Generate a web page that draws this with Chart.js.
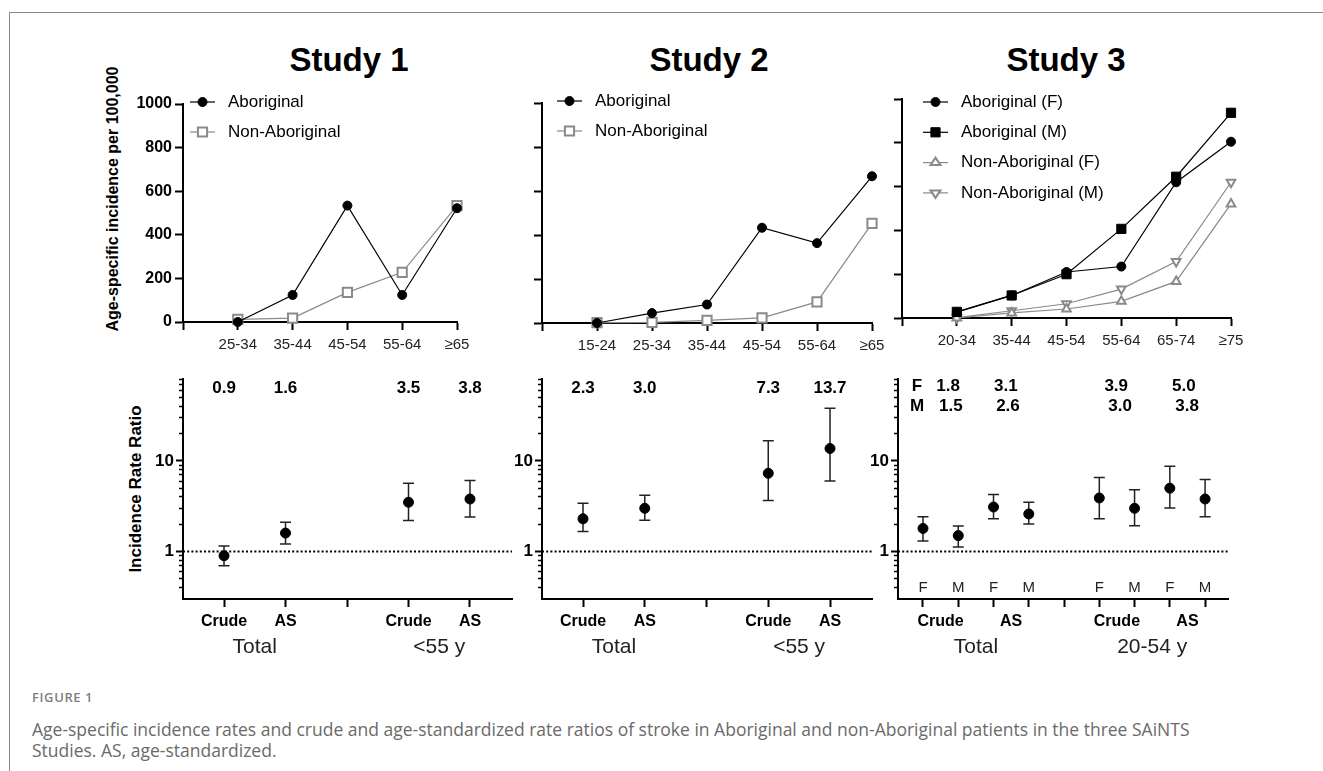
<!DOCTYPE html>
<html>
<head>
<meta charset="utf-8">
<script src="https://cdn.jsdelivr.net/npm/chart.js@4.4.0/dist/chart.umd.min.js"></script>
<style>
  body { margin: 0; background: #fff; width: 1323px; height: 771px; overflow: hidden; position: relative; font-family: "Liberation Sans", Arial, sans-serif; }
  #frame { position: absolute; left: 9px; top: 12px; width: 1400px; height: 800px; border: 1px solid #8a8a8a; }
  .title { position: absolute; top: 41px; font-weight: bold; font-size: 33px; transform: translateX(-50%); white-space: nowrap; color: #000; }
  .ylab { position: absolute; font-weight: bold; white-space: nowrap; color: #000; transform: translate(-50%, -50%) rotate(-90deg); }
  canvas { position: absolute; }
  .caphead { position: absolute; left: 32px; top: 689px; font: 600 13px/16px "Open Sans", sans-serif; letter-spacing: 0.6px; color: #808080; }
  .cap { position: absolute; left: 32px; top: 719px; font: 17.5px/21px "Open Sans", sans-serif; color: #6a6a6a; white-space: nowrap; }
</style>
</head>
<body>
<div id="frame"></div>
<div class="title" style="left:349px">Study 1</div>
<div class="title" style="left:709px">Study 2</div>
<div class="title" style="left:1066px">Study 3</div>
<div class="ylab" style="left:113px; top:199px; font-size:16px">Age-specific incidence per 100,000</div>
<div class="ylab" style="left:136px; top:489px; font-size:17px">Incidence Rate Ratio</div>

<canvas id="top1"></canvas>
<canvas id="top2"></canvas>
<canvas id="top3"></canvas>
<canvas id="bot1"></canvas>
<canvas id="bot2"></canvas>
<canvas id="bot3"></canvas>

<div class="caphead">FIGURE 1</div>
<div class="cap">Age-specific incidence rates and crude and age-standardized rate ratios of stroke in Aboriginal and non-Aboriginal patients in the three SAiNTS<br>Studies. AS, age-standardized.</div>

<script>
// age-specific incidence per 100,000
const study1Ages = ['25-34', '35-44', '45-54', '55-64', '≥65'];
const study1Aboriginal = [0, 124, 534, 124, 522];
const study1NonAboriginal = [12, 18, 136, 228, 534];

const study2Ages = ['15-24', '25-34', '35-44', '45-54', '55-64', '≥65'];
const study2Aboriginal = [0, 45, 84, 433, 363, 667];
const study2NonAboriginal = [2, 3, 12, 23, 96, 453];

const study3Ages = ['20-34', '35-44', '45-54', '55-64', '65-74', '≥75'];
const study3AboriginalF = [27, 103, 210, 235, 620, 805];
const study3AboriginalM = [28, 103, 200, 407, 645, 937];
const study3NonAboriginalF = [0, 23, 41, 76, 167, 521];
const study3NonAboriginalM = [2, 33, 65, 132, 258, 620];

const incidenceTicks = [0, 200, 400, 600, 800, 1000];

// incidence rate ratios (Aboriginal vs non-Aboriginal)
const ratioMeasures = ['Crude', 'AS'];
const ratioGroups12 = ['Total', '<55 y'];
const ratioGroups3 = ['Total', '20-54 y'];
const ratioSlots12 = [0, 1, 3, 4];
const ratioSlots3 = [0, 1, 2, 3, 5, 6, 7, 8];

const study1Irr = [0.9, 1.6, 3.5, 3.8];
const study1Lo = [0.70, 1.21, 2.2, 2.41];
const study1Hi = [1.15, 2.11, 5.68, 6.06];

const study2Irr = [2.3, 3.0, 7.3, 13.7];
const study2Lo = [1.66, 2.22, 3.65, 6.0];
const study2Hi = [3.42, 4.19, 16.7, 38.1];

const study3Sex = ['F', 'M', 'F', 'M', 'F', 'M', 'F', 'M'];
const study3Irr = [1.8, 1.5, 3.1, 2.6, 3.9, 3.0, 5.0, 3.8];
const study3Lo = [1.31, 1.12, 2.3, 2.01, 2.3, 1.93, 3.02, 2.42];
const study3Hi = [2.42, 1.92, 4.27, 3.49, 6.58, 4.8, 8.75, 6.25];

const irrLabelled = [1, 10];

Chart.defaults.font.family = '"Liberation Sans", Arial, sans-serif';
Chart.defaults.color = '#000';

const BLACK = '#000';
const GREY = '#8a8a8a';

function placeCanvas(id, area, pad) {
  const cv = document.getElementById(id);
  const w = area.r - area.l + pad.l + pad.r;
  const h = area.b - area.t + pad.t + pad.b;
  cv.width = w; cv.height = h;
  cv.style.left = (area.l - pad.l) + 'px';
  cv.style.top = (area.t - pad.t) + 'px';
  cv.style.width = w + 'px';
  cv.style.height = h + 'px';
  return cv;
}

function marker(ctx, style, r, x, y, rot) {
  ctx.beginPath();
  if (style === 'circle') {
    ctx.arc(x, y, r, 0, Math.PI * 2);
  } else if (style === 'rect') {
    const s = r * Math.SQRT1_2;
    ctx.rect(x - s, y - s, 2 * s, 2 * s);
  } else {
    const dir = rot ? -1 : 1;
    const h = r * 1.5;
    ctx.moveTo(x, y - dir * r);
    ctx.lineTo(x - h * 0.577 * 1.15, y + dir * r * 0.5);
    ctx.lineTo(x + h * 0.577 * 1.15, y + dir * r * 0.5);
    ctx.closePath();
  }
  ctx.fill();
  ctx.stroke();
}

const lineLegend = {
  id: 'lineLegend',
  afterDraw(chart, args, o) {
    const ctx = chart.ctx, a = chart.chartArea;
    ctx.save();
    chart.data.datasets.forEach((ds, i) => {
      const y = a.top + o.y + i * o.dy;
      const x0 = a.left + o.x, x1 = x0 + 25;
      ctx.strokeStyle = ds.borderColor;
      ctx.lineWidth = ds.borderWidth;
      ctx.beginPath(); ctx.moveTo(x0, y); ctx.lineTo(x1, y); ctx.stroke();
      ctx.fillStyle = ds.pointBackgroundColor;
      ctx.lineWidth = ds.pointBorderWidth;
      marker(ctx, ds.pointStyle, ds.pointRadius, (x0 + x1) / 2, y, ds.pointRotation);
      ctx.fillStyle = '#000';
      ctx.font = '17px "Liberation Sans"';
      ctx.textBaseline = 'middle';
      ctx.fillText(ds.label, x0 + 38, y);
    });
    ctx.restore();
  }
};

function series(label, values, color, fill, style, r, rot) {
  return {
    label,
    data: values.map((v, i) => ({ x: i + 1, y: v })),
    borderColor: color, borderWidth: 1.2,
    pointStyle: style, pointRadius: r, pointRotation: rot || 0,
    pointBackgroundColor: fill, pointBorderColor: color,
    pointBorderWidth: color === BLACK ? 1 : 2,
    clip: false, tension: 0
  };
}

function topChart(id, area, ages, datasets, showY, legend) {
  const pad = { l: 80, r: 30, t: 30, b: 40 };
  const cv = placeCanvas(id, area, pad);
  new Chart(cv, {
    type: 'line',
    data: { datasets },
    options: {
      responsive: false, animation: false, events: [],
      layout: { padding: { left: 0, top: pad.t, right: pad.r, bottom: 0 } },
      plugins: { legend: { display: false }, tooltip: { enabled: false }, lineLegend: legend },
      scales: {
        x: {
          type: 'linear', min: 0, max: ages.length,
          afterBuildTicks: s => { s.ticks = ages.map((_, i) => ({ value: i })).concat([{ value: ages.length }]); },
          ticks: { callback: v => (v >= 1 ? ages[v - 1] : ''), font: { size: 15 }, color: '#222', padding: 6, maxRotation: 0, autoSkip: false },
          grid: { drawOnChartArea: false, tickLength: 8, tickWidth: 2, tickColor: BLACK },
          border: { color: BLACK, width: 2 },
          afterFit: s => { s.height = pad.b; s.paddingLeft = 0; s.paddingRight = 0; }
        },
        y: {
          min: 0, max: 1000,
          afterBuildTicks: s => { s.ticks = incidenceTicks.map(v => ({ value: v })); },
          ticks: { callback: v => (showY ? String(v) : ''), font: { size: 16, weight: 'bold' }, padding: 3 },
          grid: { drawOnChartArea: false, tickLength: 8, tickWidth: 2, tickColor: BLACK },
          border: { color: BLACK, width: 2 },
          afterFit: s => { s.width = pad.l; s.paddingTop = 0; s.paddingBottom = 0; }
        }
      }
    },
    plugins: [lineLegend]
  });
}

topChart('top1', { l: 183, r: 457, t: 104, b: 322 }, study1Ages, [
  series('Aboriginal', study1Aboriginal, BLACK, BLACK, 'circle', 4.5),
  series('Non-Aboriginal', study1NonAboriginal, GREY, '#fff', 'rect', 6.5)
], true, { x: 7, y: -2, dy: 30 });

topChart('top2', { l: 542, r: 872, t: 103, b: 323 }, study2Ages, [
  series('Aboriginal', study2Aboriginal, BLACK, BLACK, 'circle', 4.5),
  series('Non-Aboriginal', study2NonAboriginal, GREY, '#fff', 'rect', 6.5)
], false, { x: 15, y: -2, dy: 30 });

topChart('top3', { l: 902, r: 1231, t: 99, b: 318 }, study3Ages, [
  series('Aboriginal (F)', study3AboriginalF, BLACK, BLACK, 'circle', 4.5),
  series('Aboriginal (M)', study3AboriginalM, BLACK, BLACK, 'rect', 6.5),
  series('Non-Aboriginal (F)', study3NonAboriginalF, GREY, '#fff', 'triangle', 5),
  series('Non-Aboriginal (M)', study3NonAboriginalM, GREY, '#fff', 'triangle', 5, 180)
], false, { x: 21, y: 3, dy: 30.3 });

// bottom row: rate ratios on a log axis
const errorBars = {
  id: 'errorBars',
  beforeDatasetsDraw(chart) {
    const ds = chart.data.datasets[0], xs = chart.scales.x, ys = chart.scales.y, ctx = chart.ctx;
    ctx.save();
    ctx.strokeStyle = '#222'; ctx.lineWidth = 1.5;
    ds.data.forEach((p, i) => {
      const x = xs.getPixelForValue(p.x);
      const y1 = ys.getPixelForValue(ds.lo[i]);
      const y2 = ys.getPixelForValue(ds.hi[i]);
      ctx.beginPath();
      ctx.moveTo(x, y1); ctx.lineTo(x, y2);
      ctx.moveTo(x - 5.5, y1); ctx.lineTo(x + 5.5, y1);
      ctx.moveTo(x - 5.5, y2); ctx.lineTo(x + 5.5, y2);
      ctx.stroke();
    });
    ctx.restore();
  }
};

const irrText = {
  id: 'irrText',
  afterDraw(chart, args, o) {
    const ctx = chart.ctx, xs = chart.scales.x, a = chart.chartArea;
    const px = v => xs.getPixelForValue(v);
    ctx.save();
    ctx.fillStyle = '#000'; ctx.textAlign = 'center'; ctx.textBaseline = 'middle';
    ctx.font = 'bold 17px "Liberation Sans"';
    o.rows.forEach(r => {
      if (r.tag) ctx.fillText(r.tag, a.left + 19, a.top + r.dy);
      r.values.forEach((v, i) => ctx.fillText(v.toFixed(1), px(r.x[i]), a.top + r.dy));
    });
    if (o.sex) {
      ctx.font = '15px "Liberation Sans"';
      ctx.fillStyle = '#222';
      o.sex.forEach((s, i) => ctx.fillText(s, px(o.slots[i]), a.bottom - 11));
      ctx.fillStyle = '#000';
    }
    ctx.font = 'bold 16px "Liberation Sans"';
    o.measureX.forEach((x, i) => ctx.fillText(ratioMeasures[i % 2], px(x), a.bottom + 23));
    ctx.font = '21px "Liberation Sans"';
    ctx.fillStyle = '#222';
    o.groupX.forEach((x, i) => ctx.fillText(o.groups[i], px(x), a.bottom + 48));
    ctx.restore();
  }
};

function irrTicks() {
  const t = [];
  [0.1, 1, 10].forEach(d => { for (let m = 1; m <= 9; m++) { const v = +(m * d).toFixed(2); if (v > 0.3 && v <= 80) t.push(v); } });
  return t;
}

function bottomChart(id, area, xmin, xmax, slots, irr, lo, hi, text) {
  const pad = { l: 70, r: 20, t: 15, b: 70 };
  const cv = placeCanvas(id, area, pad);
  const isMajor = ctx => ctx.tick && irrLabelled.includes(ctx.tick.value);
  new Chart(cv, {
    type: 'scatter',
    data: {
      datasets: [{
        data: irr.map((v, i) => ({ x: slots[i], y: v })),
        lo, hi,
        pointRadius: 5, pointBackgroundColor: BLACK, pointBorderColor: BLACK, pointBorderWidth: 1,
        clip: false
      }, {
        type: 'line',
        data: [{ x: xmin, y: 1 }, { x: xmax, y: 1 }],
        borderColor: BLACK, borderWidth: 2, borderDash: [2, 2.2], pointRadius: 0, clip: false
      }]
    },
    options: {
      responsive: false, animation: false, events: [],
      layout: { padding: { left: 0, top: pad.t, right: pad.r, bottom: 0 } },
      plugins: { legend: { display: false }, tooltip: { enabled: false }, irrText: text },
      scales: {
        x: {
          type: 'linear', min: xmin, max: xmax,
          afterBuildTicks: s => {
            const t = [];
            for (let v = 0; v <= Math.max(...slots); v++) t.push({ value: v });
            s.ticks = t;
          },
          ticks: { callback: () => '', autoSkip: false },
          grid: { drawOnChartArea: false, tickLength: 8, tickWidth: 2, tickColor: BLACK },
          border: { color: BLACK, width: 2 },
          afterFit: s => { s.height = pad.b; s.paddingLeft = 0; s.paddingRight = 0; }
        },
        y: {
          type: 'logarithmic', min: 0.3, max: 80,
          afterBuildTicks: s => { s.ticks = irrTicks().map(v => ({ value: v })); },
          ticks: { callback: v => (irrLabelled.includes(v) ? String(v) : ''), font: { size: 17, weight: 'bold' }, padding: 2, autoSkip: false },
          grid: {
            drawOnChartArea: false, tickLength: 7, tickColor: BLACK,
            tickWidth: ctx => (isMajor(ctx) ? 2 : 1.5),
            tickBorderDash: ctx => (isMajor(ctx) ? [] : [0, 3, 100])
          },
          border: { color: BLACK, width: 2 },
          afterFit: s => { s.width = pad.l; s.paddingTop = 0; s.paddingBottom = 0; }
        }
      }
    },
    plugins: [errorBars, irrText]
  });
}

bottomChart('bot1', { l: 183, r: 512, t: 379, b: 599 }, -0.667, 4.683, ratioSlots12, study1Irr, study1Lo, study1Hi, {
  rows: [{ dy: 9, values: study1Irr, x: ratioSlots12 }],
  measureX: ratioSlots12, groupX: [0.5, 3.5], groups: ratioGroups12
});

bottomChart('bot2', { l: 542, r: 872, t: 379, b: 599 }, -0.664, 4.68, ratioSlots12, study2Irr, study2Lo, study2Hi, {
  rows: [{ dy: 9, values: study2Irr, x: ratioSlots12 }],
  measureX: ratioSlots12, groupX: [0.5, 3.5], groups: ratioGroups12
});

bottomChart('bot3', { l: 898, r: 1228, t: 379, b: 599 }, -0.709, 8.65, ratioSlots3, study3Irr, study3Lo, study3Hi, {
  rows: [
    { tag: 'F', dy: 7, values: study3Irr.filter((_, i) => study3Sex[i] === 'F'), x: [0.71, 2.35, 5.48, 7.40] },
    { tag: 'M', dy: 27, values: study3Irr.filter((_, i) => study3Sex[i] === 'M'), x: [0.79, 2.41, 5.59, 7.49] }
  ],
  sex: study3Sex, slots: ratioSlots3,
  measureX: [0.5, 2.5, 5.5, 7.5], groupX: [1.5, 6.5], groups: ratioGroups3
});
</script>
</body>
</html>
